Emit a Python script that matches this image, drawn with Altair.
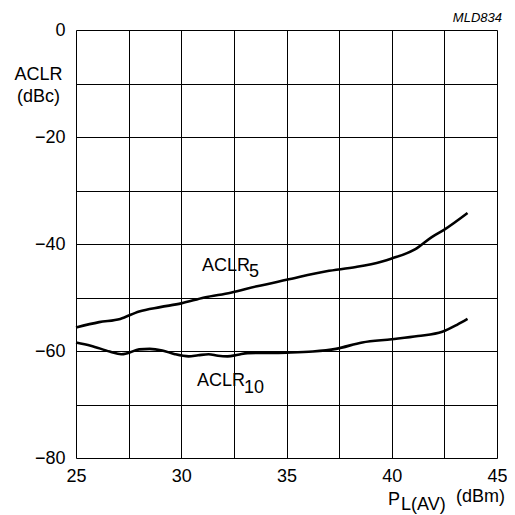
import altair as alt
import pandas as pd

# ACLR5 curve
x5 = [25.0, 26.1, 27.1, 28.0, 29.0, 30.0, 31.1, 32.35, 33.6, 35.0, 36.9, 38.3, 39.5, 40.0, 41.1, 41.9, 42.5, 43.6]
y5 = [-55.6, -54.6, -54.0, -52.6, -51.8, -51.1, -50.0, -49.1, -47.9, -46.7, -45.1, -44.3, -43.3, -42.7, -41.0, -38.7, -37.3, -34.2]

# ACLR10 curve
x10 = [25.0, 25.7, 26.6, 27.15, 27.45, 28.0, 28.5, 29.1, 29.7, 30.35, 30.8, 31.3, 31.75, 32.2, 32.7, 33.15,
       35.0, 36.25, 37.35, 38.6, 40.0, 41.25, 42.4, 43.1, 43.6]
y10 = [-58.4, -59.0, -60.1, -60.6, -60.4, -59.7, -59.6, -59.9, -60.6, -61.0, -60.8, -60.6, -60.9, -61.0, -60.7, -60.4,
       -60.3, -60.1, -59.6, -58.4, -57.8, -57.2, -56.4, -55.1, -54.0]

x_grid = [25, 27.5, 30, 32.5, 35, 37.5, 40, 42.5, 45]
y_grid = [0, -10, -20, -30, -40, -50, -60, -70, -80]

label_main = ["ACLR", "ACLR"]
label_main_x = [30.98, 30.75]
label_main_y = [-45.05, -66.5]
label_sub = ["5", "10"]
label_sub_y = [-46.2, -67.9]

FONT = "Liberation Sans"
FS = 18

df = pd.DataFrame({"x": x5 + x10, "y": y5 + y10,
                   "s": ["ACLR5"] * len(x5) + ["ACLR10"] * len(x10)})
lab = pd.DataFrame({"x": label_main_x, "y": label_main_y, "t": label_main})
sub = pd.DataFrame({"x": label_main_x, "y": label_sub_y, "t": label_sub})

xs = alt.Scale(domain=[25, 45], nice=False, zero=False)
ys = alt.Scale(domain=[-80, 0], nice=False, zero=False)

xaxis = alt.Axis(values=x_grid, labelExpr="datum.value % 5 == 0 ? datum.label : ''",
                 grid=True, gridColor="black", gridOpacity=1, gridWidth=1,
                 ticks=False, domain=False, title=None, labelFont=FONT, labelFontSize=FS,
                 labelColor="black", labelPadding=9, labelFlush=False)
yaxis = alt.Axis(values=y_grid, labelExpr="datum.value % 20 == 0 ? datum.label : ''",
                 grid=True, gridColor="black", gridOpacity=1, gridWidth=1,
                 ticks=False, domain=False, labelFont=FONT, labelFontSize=FS,
                 labelColor="black", labelPadding=11,
                 title=["ACLR", "(dBc)"], titleAngle=0, titleAlign="center",
                 titleBaseline="alphabetic", titleX=-38, titleY=49, titleFont=FONT,
                 titleFontSize=FS, titleFontWeight="normal", titleColor="black",
                 titleLineHeight=22)

lines = alt.Chart(df).mark_line(color="black", strokeWidth=2.6, interpolate="monotone").encode(
    x=alt.X("x:Q", scale=xs, axis=xaxis),
    y=alt.Y("y:Q", scale=ys, axis=yaxis),
    detail="s:N",
)

labels = alt.Chart(lab).mark_text(align="left", baseline="alphabetic", font=FONT,
                                  fontSize=FS, color="black").encode(
    x=alt.X("x:Q", scale=xs), y=alt.Y("y:Q", scale=ys), text="t:N")
subs = alt.Chart(sub).mark_text(align="left", baseline="alphabetic", font=FONT,
                                fontSize=FS, color="black", dx=47).encode(
    x=alt.X("x:Q", scale=xs), y=alt.Y("y:Q", scale=ys), text="t:N")

p_txt = alt.Chart(pd.DataFrame({"t": ["P"]})).mark_text(
    align="left", baseline="alphabetic", font=FONT, fontSize=FS, color="black").encode(
    x=alt.value(312), y=alt.value(475), text="t:N")
l_txt = alt.Chart(pd.DataFrame({"t": ["L(AV)"]})).mark_text(
    align="left", baseline="alphabetic", font=FONT, fontSize=FS, color="black").encode(
    x=alt.value(325), y=alt.value(480), text="t:N")
d_txt = alt.Chart(pd.DataFrame({"t": ["(dBm)"]})).mark_text(
    align="right", baseline="alphabetic", font=FONT, fontSize=FS, color="black").encode(
    x=alt.value(429), y=alt.value(472), text="t:N")
mld = alt.Chart(pd.DataFrame({"t": ["MLD834"]})).mark_text(
    align="right", baseline="alphabetic", font=FONT, fontSize=13, fontStyle="italic",
    color="black").encode(x=alt.value(426), y=alt.value(-8), text="t:N")

chart = alt.layer(lines, labels, subs, p_txt, l_txt, d_txt, mld).properties(
    width=421, height=428,
    autosize=alt.AutoSizeParams(type="none"),
    padding={"left": 68, "top": 22, "right": 10, "bottom": 56},
).configure_view(stroke="black", strokeWidth=1.5).configure(background="white")

chart.save("out.html", embed_options={"renderer": "svg", "actions": False})
